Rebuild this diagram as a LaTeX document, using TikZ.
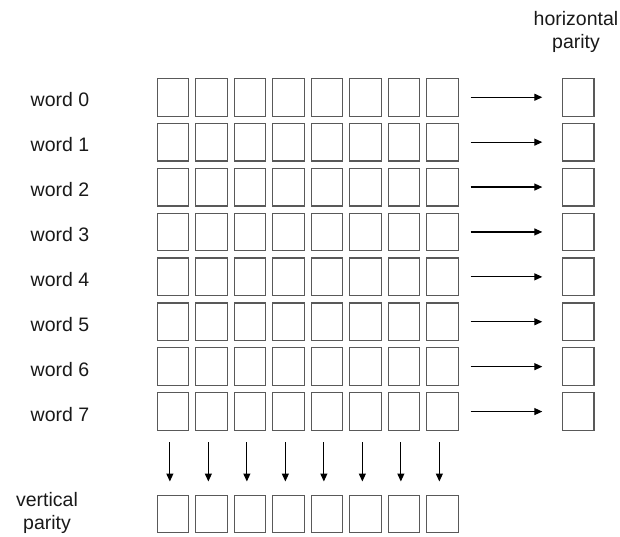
\documentclass[tikz,border=0pt]{standalone}
\usepackage{fontspec}
\setmainfont{Liberation Sans}
\usetikzlibrary{arrows.meta}
\begin{document}
\begin{tikzpicture}[x=1pt,y=-1pt,
  cell/.style={draw=black!65,line width=1.2pt,minimum width=31.5pt,minimum height=37.7pt,inner sep=0pt,anchor=north west},
  lbl/.style={font=\fontsize{19.5}{23.3}\selectfont,text=black!90,inner sep=0pt},
  arr/.style={line width=1.2pt,-{Triangle[length=8pt,width=7pt]}}]
\useasboundingbox (0,0) rectangle (620,536);
\foreach \j in {0,...,7}{
  \foreach \i in {0,...,7}{
    \node[cell] (c\j\i) at ({156.5+38.5*\i},{77.8+44.9*\j}) {};
  }
  \node[cell] (hp\j) at (561.8,{77.8+44.9*\j}) {};
  \node[lbl,anchor=base] (w\j) at (60,{106.7+44.9*\j}) {word \j};
  \draw[arr,shorten <=12pt,shorten >=19.5pt] (c\j7.east) -- (hp\j.west);
}
\foreach \i in {0,...,7}{
  \node[cell] (vp\i) at ({156.5+38.5*\i},494.5) {};
  \draw[arr,shorten <=11pt,shorten >=13pt] ([xshift=-3pt]c7\i.south) -- ([xshift=-3pt]vp\i.north);
}
\node[lbl,align=center,anchor=base] (hl) at (576,48.3) {horizontal\\parity};
\node[lbl,align=center,anchor=base] (vl) at (47,529.3) {vertical\\parity};
\end{tikzpicture}
\end{document}
